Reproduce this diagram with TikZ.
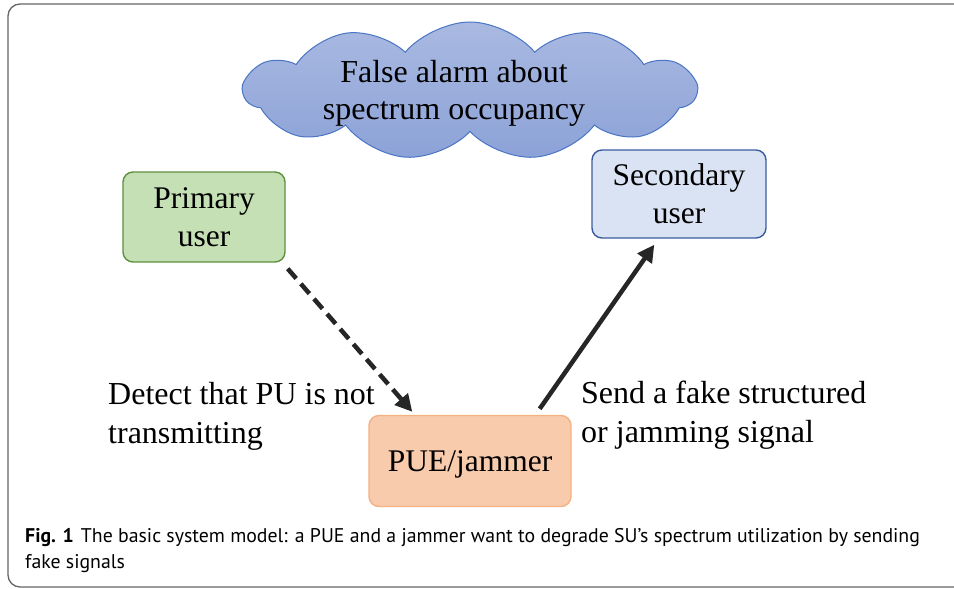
\documentclass[tikz,border=0pt]{standalone}
\usepackage{fontspec}
\setmainfont{Liberation Serif}
\newfontfamily\capfont{PT Sans}
\usetikzlibrary{shapes.symbols,arrows.meta}

\definecolor{pufill}{HTML}{C5E0B4}
\definecolor{pudraw}{HTML}{5E913E}
\definecolor{sufill}{HTML}{DAE3F3}
\definecolor{sudraw}{HTML}{3A5BA0}
\definecolor{puefill}{HTML}{F8CBAD}
\definecolor{puedraw}{HTML}{F4B183}
\definecolor{cloudtop}{HTML}{A9B9E1}
\definecolor{cloudbot}{HTML}{8CA2D7}
\definecolor{clouddraw}{HTML}{4A74C4}
\definecolor{arrowgray}{HTML}{262626}

\begin{document}
\begin{tikzpicture}[x=1pt,y=-1pt,
  box/.style={draw,rounded corners=10pt,line width=1.4pt,align=center,
    inner sep=0pt,font=\fontsize{31.5}{38}\selectfont},
  lbl/.style={anchor=base west,inner sep=0pt,align=left,
    font=\fontsize{32}{39}\selectfont},
  link/.style={line width=4.5pt,arrowgray,-{Triangle[length=17pt,width=17pt]}}]

  % Canvas and outer frame
  \useasboundingbox (0,0) rectangle (954,589);
  \draw[black!60,line width=1.3pt,rounded corners=12pt] (8,4) rectangle (975,587);

  % Cloud with the false alarm
  \node[cloud,cloud puffs=11,cloud puff arc=100,cloud ignores aspect,
    minimum width=452pt,minimum height=138pt,
    top color=cloudtop,bottom color=cloudbot,draw=clouddraw,line width=1pt]
    (alarm) at (470,91) {};
  \node[align=center,inner sep=0pt,font=\fontsize{32}{37}\selectfont]
    (alarmtext) at (454,93) {False alarm about\\spectrum occupancy};

  % The three users
  \node[box,fill=pufill,draw=pudraw,minimum width=162pt,minimum height=90pt]
    (pu) at (204,217) {Primary\\user};
  \node[box,fill=sufill,draw=sudraw,minimum width=174pt,minimum height=88pt]
    (su) at (679,194) {Secondary\\user};
  \node[box,fill=puefill,draw=puedraw,minimum width=202pt,minimum height=91pt,
    text depth=0pt] (pue) at (470,461) {PUE/jammer};

  % Arrow end points
  \coordinate (puout) at ([shift={(2,6)}]pu.south east);
  \coordinate (puein) at ([shift={(44,-3)}]pue.north west);
  \coordinate (pueout) at ([shift={(-32,-6)}]pue.north east);
  \coordinate (suin) at ([shift={(63,6)}]su.south west);

  % Sensing and attack arrows
  \draw[link,dash pattern=on 13pt off 7pt] (puout) -- (puein);
  \draw[link] (pueout) -- (suin);

  % Arrow labels
  \node[lbl] (detect) at (108,443) {Detect that PU is not\\transmitting};
  \node[lbl] (send) at (581,442) {Send a fake structured\\or jamming signal};

  % Caption
  \node[anchor=base west,inner sep=0pt,font=\capfont\fontsize{19.8}{26}\selectfont]
    (cap1) at (25,542) {\textbf{Fig. 1}\hspace{7pt}The basic system model: a PUE and a jammer want to degrade SU’s spectrum utilization by sending};
  \node[anchor=base west,inner sep=0pt,font=\capfont\fontsize{19.8}{26}\selectfont]
    (cap2) at (25,568) {fake signals};

\end{tikzpicture}
\end{document}
